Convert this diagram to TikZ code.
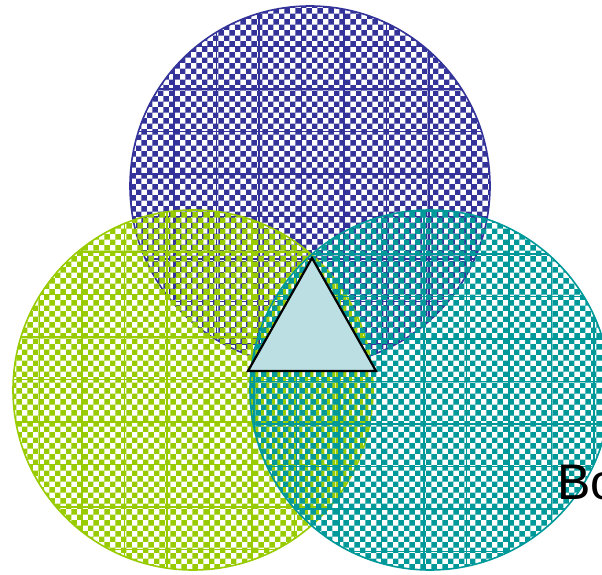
\documentclass[tikz,border=0pt]{standalone}
\usepackage{fontspec}
\setmainfont{Liberation Sans}
\usetikzlibrary{patterns}
\definecolor{cblue}{HTML}{333399}
\definecolor{cgreen}{HTML}{99CC00}
\definecolor{cteal}{HTML}{009999}
\definecolor{tri}{HTML}{BBDFE3}
\tikzset{
  setcircle/.style={draw=#1, line width=1.6pt, pattern=checkerboard, pattern color=#1},
  gridline/.style={draw=#1, line width=1.4pt},
}
\begin{document}
\begin{tikzpicture}[x=1pt,y=-1pt]
\useasboundingbox (0,0) rectangle (602,575);
\fill[white] (0,0) rectangle (602,575);
% blue circle
\begin{scope}
\clip (310,186) circle (180);
\foreach \k in {0,...,14} {
  \draw[gridline=cblue] ({4+42.5*\k},0) -- ({4+42.5*\k},575);
  \draw[gridline=cblue] (0,{4+42.5*\k}) -- (602,{4+42.5*\k});
}
\end{scope}
\node[setcircle=cblue, circle, minimum size=360pt, inner sep=0pt] (top) at (310,186) {};
% green circle
\begin{scope}
\clip (193,390) circle (180);
\foreach \k in {0,...,14} {
  \draw[gridline=cgreen] ({-3+42.5*\k},0) -- ({-3+42.5*\k},575);
  \draw[gridline=cgreen] (0,{-3+42.5*\k}) -- (602,{-3+42.5*\k});
}
\end{scope}
\node[setcircle=cgreen, circle, minimum size=360pt, inner sep=0pt] (left) at (193,390) {};
% teal circle
\begin{scope}
\clip (430,390) circle (180);
\foreach \k in {0,...,14} {
  \draw[gridline=cteal] ({-1+42.5*\k},0) -- ({-1+42.5*\k},575);
  \draw[gridline=cteal] (0,{-1+42.5*\k}) -- (602,{-1+42.5*\k});
}
\end{scope}
\node[setcircle=cteal, circle, minimum size=360pt, inner sep=0pt] (right) at (430,390) {};
% triangle
\coordinate (ta) at (312,258);
\coordinate (tb) at (248,371);
\coordinate (tc) at (376,371);
\filldraw[fill=tri, draw=black, line width=2.2pt, line join=miter] (ta) -- (tb) -- (tc) -- cycle;
% text
\node[anchor=base west, inner sep=0pt, font=\fontsize{50}{60}\selectfont] (lbl) at (557,499) {Bo};
\end{tikzpicture}
\end{document}
